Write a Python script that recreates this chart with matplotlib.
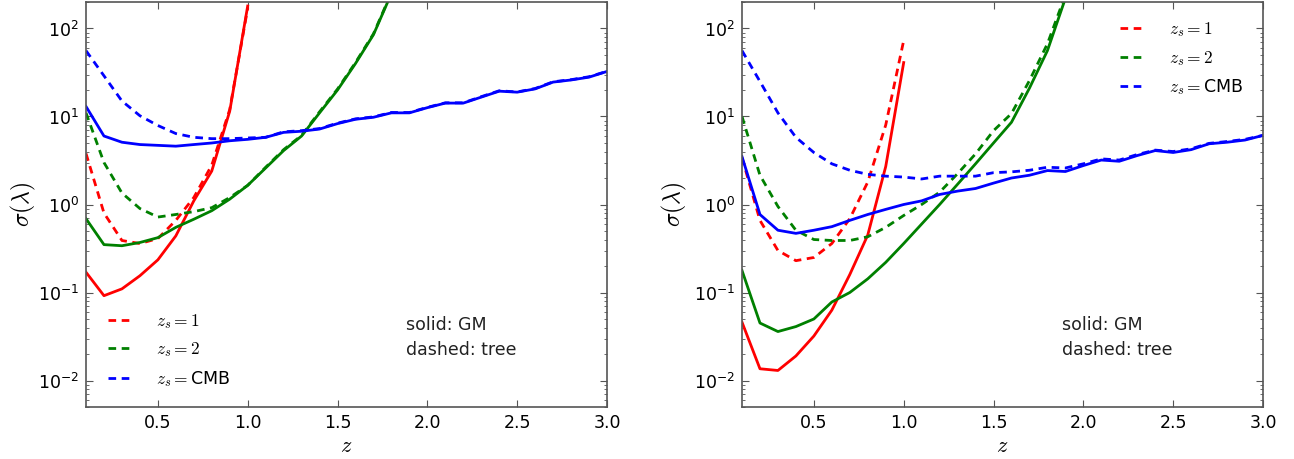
import numpy as np
import matplotlib
matplotlib.use("Agg")
import matplotlib.pyplot as plt
from matplotlib.ticker import FuncFormatter, LogLocator, NullLocator, FixedLocator

plt.rcParams['mathtext.fontset'] = 'cm'
plt.rcParams['font.family'] = ['DejaVu Sans']
plt.rcParams['lines.scale_dashes'] = False

# ---- data ----
z_short = [0.1, 0.2, 0.3, 0.4, 0.5, 0.6, 0.7, 0.8, 0.9, 1.0]
z_mid = [0.1, 0.2, 0.3, 0.4, 0.5, 0.6, 0.7, 0.8, 0.9, 1.0, 1.1, 1.2, 1.3,
         1.4, 1.5, 1.6, 1.7, 1.8, 1.9]
z_long = [0.1, 0.2, 0.3, 0.4, 0.5, 0.6, 0.7, 0.8, 0.9, 1.0, 1.1, 1.2, 1.3,
          1.4, 1.5, 1.6, 1.7, 1.8, 1.9, 2.0, 2.1, 2.2, 2.3, 2.4, 2.5, 2.6,
          2.7, 2.8, 2.9, 3.0]

# left panel
L_z1_gm = [0.17, 0.092, 0.11, 0.155, 0.235, 0.44, 1.1, 2.4, 11.5, 180]
L_z1_tree = [3.8, 0.8, 0.39, 0.36, 0.41, 0.66, 1.2, 2.8, 12, 170]
L_z2_gm = [0.69, 0.35, 0.34, 0.37, 0.42, 0.55, 0.68, 0.85, 1.15, 1.65, 2.6,
           4.1, 6.0, 11, 20, 40, 85, 250, 600]
L_z2_tree = [11, 3.0, 1.35, 0.9, 0.72, 0.77, 0.83, 0.92, 1.2, 1.65, 2.65,
             4.2, 6.1, 11.3, 20.5, 41, 87, 255, 610]
L_cmb_gm = [13, 6.0, 5.1, 4.8, 4.7, 4.6, 4.8, 5.0, 5.3, 5.5, 5.8, 6.6, 6.8,
            7.2, 8.3, 9.3, 9.8, 11, 11, 12.6, 14.2, 14.2, 16.6, 19.4, 18.9,
            20.6, 24.6, 26, 28, 32.5]
L_cmb_tree = [56, 29, 15, 10.2, 7.9, 6.4, 5.8, 5.6, 5.6, 5.7, 5.8, 6.7, 6.9,
              7.3, 8.4, 9.4, 9.9, 11.1, 11.1, 12.7, 14.3, 14.3, 16.8, 19.6,
              19.0, 20.8, 24.8, 26.2, 28.3, 32.6]

# right panel
R_z1_gm = [0.046, 0.0136, 0.013, 0.019, 0.032, 0.063, 0.16, 0.45, 2.7, 41]
R_z1_tree = [3.4, 0.66, 0.30, 0.23, 0.25, 0.36, 0.69, 1.8, 8, 73]
R_z2_gm = [0.178, 0.045, 0.036, 0.041, 0.05, 0.078, 0.1, 0.143, 0.22, 0.36,
           0.6, 1.0, 1.7, 2.9, 5.0, 8.6, 21, 56, 220]
R_z2_tree = [10, 2.15, 0.95, 0.51, 0.40, 0.39, 0.39, 0.43, 0.55, 0.75, 1.0,
             1.38, 2.24, 3.76, 6.9, 10.8, 25.6, 67, 240]
R_cmb_gm = [3.5, 0.77, 0.51, 0.47, 0.51, 0.56, 0.66, 0.77, 0.88, 1.0, 1.1,
            1.3, 1.42, 1.52, 1.75, 2.0, 2.15, 2.43, 2.37, 2.77, 3.2, 3.1, 3.6,
            4.1, 3.9, 4.2, 4.9, 5.1, 5.4, 6.1]
R_cmb_tree = [56, 25, 11, 5.8, 3.9, 2.9, 2.45, 2.2, 2.1, 2.05, 1.95, 2.1,
              2.1, 2.1, 2.3, 2.35, 2.45, 2.65, 2.6, 2.9, 3.3, 3.2, 3.7, 4.15,
              4.0, 4.3, 4.95, 5.2, 5.5, 6.1]

labels = [r'$z_s=1$', r'$z_s=2$', r'$z_s=$CMB']
colors = ['#ff0000', '#008000', '#0000ff']
xticks = [0.5, 1.0, 1.5, 2.0, 2.5, 3.0]
xticklabels = ['0.5', '1.0', '1.5', '2.0', '2.5', '3.0']

W, H = 1294, 459
fig = plt.figure(figsize=(W / 100, H / 100), dpi=100)

def ax_rect(x0, x1, y0, y1):
    return [x0 / W, 1 - y1 / H, (x1 - x0) / W, (y1 - y0) / H]

axL = fig.add_axes(ax_rect(86, 607, 2, 407))
axR = fig.add_axes(ax_rect(742, 1263, 2, 407))

dash = (0, (5.5, 4.0))
lw = 2.0

def draw(ax, series):
    handles = []
    for (zs, gm, zt, tree), c, lab in zip(series, colors, labels):
        ax.plot(zs, gm, color=c, lw=lw, ls='-')
        h, = ax.plot(zt, tree, color=c, lw=lw, ls=dash, label=lab)
        handles.append(h)
    return handles

hL = draw(axL, [(z_short, L_z1_gm, z_short, L_z1_tree),
                (z_mid[:len(L_z2_gm)], L_z2_gm, z_mid[:len(L_z2_tree)], L_z2_tree),
                (z_long, L_cmb_gm, z_long, L_cmb_tree)])
hR = draw(axR, [(z_short, R_z1_gm, z_short, R_z1_tree),
                (z_mid, R_z2_gm, z_mid, R_z2_tree),
                (z_long, R_cmb_gm, z_long, R_cmb_tree)])

def fmt(v, pos):
    e = int(round(np.log10(v)))
    return r'$\mathregular{10^{%d}}$' % e

for ax in (axL, axR):
    ax.set_yscale('log')
    ax.set_xlim(0.1, 3.0)
    ax.set_ylim(0.005, 200)
    ax.xaxis.set_major_locator(FixedLocator(xticks))
    ax.set_xticklabels(xticklabels)
    ax.xaxis.set_minor_locator(NullLocator())
    ax.yaxis.set_major_locator(LogLocator(base=10, numticks=10))
    ax.yaxis.set_minor_locator(LogLocator(base=10, subs=np.arange(2, 10), numticks=20))
    ax.yaxis.set_major_formatter(FuncFormatter(fmt))
    ax.tick_params(which='both', direction='in', top=True, right=True,
                   labelsize=12.5, color='#555555')
    ax.tick_params(which='major', length=5, width=0.8, pad=5)
    ax.tick_params(which='minor', length=2.5, width=0.6)
    for s in ax.spines.values():
        s.set_color('#555555')
        s.set_linewidth(1.2)
    ax.set_xlabel(r'$z$', fontsize=16)
    ax.xaxis.set_label_coords(0.5, -0.072)
    ax.set_ylabel(r'$\sigma(\lambda)$', fontsize=17)
    ax.text(0.614, 0.190, 'solid: GM', transform=ax.transAxes, fontsize=12.5,
            va='baseline', ha='left', color='#222222')
    ax.text(0.614, 0.128, 'dashed: tree', transform=ax.transAxes, fontsize=12.5,
            va='baseline', ha='left', color='#222222')

axL.yaxis.set_label_coords(-0.092, 0.5)
axR.yaxis.set_label_coords(-0.102, 0.5)

legkw = dict(frameon=False, fontsize=12.5, handlelength=1.3, handletextpad=1.5,
             borderpad=0.0, borderaxespad=0.0, labelspacing=0.55)
axL.legend(handles=hL, loc='lower left', bbox_to_anchor=(0.042, 0.045), **legkw)
axR.legend(handles=hR, loc='upper left', bbox_to_anchor=(0.7255, 0.955), **legkw)

fig.savefig('out.png', dpi=100)
